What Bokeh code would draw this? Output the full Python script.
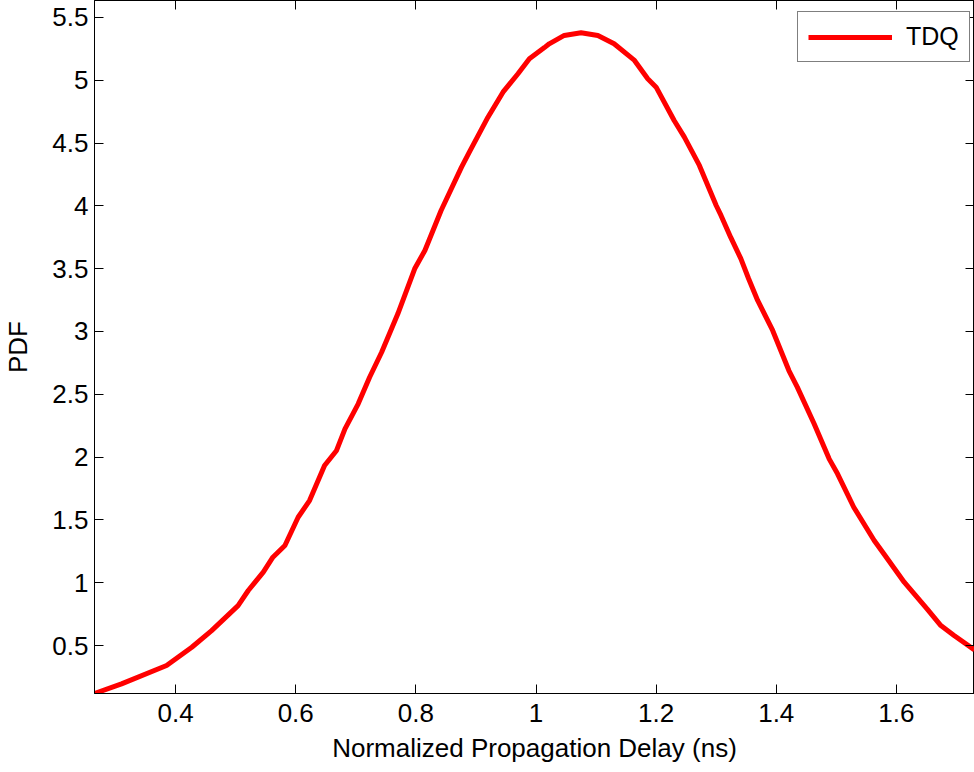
from bokeh.plotting import figure
from bokeh.models import (Range1d, FixedTicker, Legend, LegendItem, LinearAxis,
                          CustomLabelingPolicy)
from bokeh.embed import file_html
from bokeh.resources import INLINE

# Data
delay = [0.266, 0.310, 0.385, 0.427, 0.460, 0.504, 0.521, 0.546, 0.562, 0.582,
         0.604, 0.623, 0.648, 0.668, 0.682, 0.704, 0.723, 0.743, 0.770, 0.798,
         0.815, 0.842, 0.876, 0.889, 0.920, 0.945, 0.970, 0.989, 1.014, 1.022,
         1.047, 1.075, 1.103, 1.130, 1.164, 1.186, 1.200, 1.230, 1.247, 1.272,
         1.300, 1.308, 1.324, 1.341, 1.354, 1.369, 1.394, 1.421, 1.435, 1.463,
         1.488, 1.502, 1.529, 1.563, 1.579, 1.613, 1.651, 1.674, 1.696, 1.730]
pdf = [0.120, 0.195, 0.341, 0.486, 0.619, 0.818, 0.938, 1.084, 1.203, 1.296,
       1.521, 1.654, 1.933, 2.053, 2.225, 2.424, 2.636, 2.835, 3.141, 3.499,
       3.645, 3.963, 4.308, 4.428, 4.706, 4.905, 5.052, 5.171, 5.260, 5.290,
       5.357, 5.378, 5.357, 5.291, 5.158, 5.012, 4.945, 4.680, 4.547, 4.322,
       4.003, 3.924, 3.751, 3.580, 3.420, 3.247, 3.008, 2.689, 2.557, 2.265,
       1.986, 1.867, 1.601, 1.336, 1.230, 1.004, 0.792, 0.659, 0.580, 0.465]

x_ticks = [0.4, 0.6, 0.8, 1.0, 1.2, 1.4, 1.6]
x_tick_labels = ["0.4", "0.6", "0.8", "1", "1.2", "1.4", "1.6"]
y_ticks = [0.5, 1.0, 1.5, 2.0, 2.5, 3.0, 3.5, 4.0, 4.5, 5.0, 5.5]
y_tick_labels = ["0.5", "1", "1.5", "2", "2.5", "3", "3.5", "4", "4.5", "5", "5.5"]

FONT = "Liberation Sans"

p = figure(width=974, height=772,
           x_range=Range1d(0.265, 1.730), y_range=Range1d(0.118, 5.635),
           output_backend="svg", toolbar_location=None,
           min_border_left=93, min_border_right=0, min_border_top=0,
           min_border_bottom=79,
           x_axis_label="Normalized Propagation Delay (ns)", y_axis_label="PDF")
p.grid.visible = False
p.background_fill_color = "white"
p.border_fill_color = "white"
p.outline_line_color = "black"
p.outline_line_width = 1

r = p.line(delay, pdf, line_color="#ff0000", line_width=5)

for ax, ticks, labels in ((p.xaxis[0], x_ticks, x_tick_labels),
                          (p.yaxis[0], y_ticks, y_tick_labels)):
    ax.ticker = FixedTicker(ticks=ticks)
    ax.major_label_overrides = {t: l for t, l in zip(ticks, labels)}
    ax.major_tick_in = 9
    ax.major_tick_out = 0
    ax.minor_tick_in = 0
    ax.minor_tick_out = 0
    ax.axis_line_color = "black"
    ax.major_tick_line_color = "black"
    ax.major_label_text_font = FONT
    ax.major_label_text_font_size = "26px"
    ax.major_label_text_color = "black"
    ax.axis_label_text_font = FONT
    ax.axis_label_text_font_size = "26px"
    ax.axis_label_text_font_style = "normal"
    ax.axis_label_text_color = "black"

p.xaxis[0].major_label_standoff = 10
p.xaxis[0].axis_label_standoff = 8
p.yaxis[0].major_label_standoff = 6
p.yaxis[0].axis_label_standoff = 16

# tick marks on the top and right edges (MATLAB box style), no labels
for side, ticks in (("above", x_ticks), ("right", y_ticks)):
    ax = LinearAxis(ticker=FixedTicker(ticks=ticks),
                    major_label_policy=CustomLabelingPolicy(code="return new Set()"))
    ax.major_label_text_font_size = "0px"
    ax.major_label_standoff = 0
    ax.major_tick_in = 9
    ax.major_tick_out = 0
    ax.minor_tick_in = 0
    ax.minor_tick_out = 0
    ax.axis_line_color = "black"
    ax.major_tick_line_color = "black"
    p.add_layout(ax, side)

legend = Legend(items=[LegendItem(label="TDQ", renderers=[r])],
                location=(703, 631), margin=0, padding=10, spacing=0,
                glyph_width=84, glyph_height=20, label_standoff=14,
                label_text_font=FONT, label_text_font_size="25px",
                label_text_color="black",
                border_line_color="black", border_line_width=1,
                background_fill_color="white", background_fill_alpha=1)
p.add_layout(legend, "center")

open("out.html", "w").write(file_html(p, INLINE))
